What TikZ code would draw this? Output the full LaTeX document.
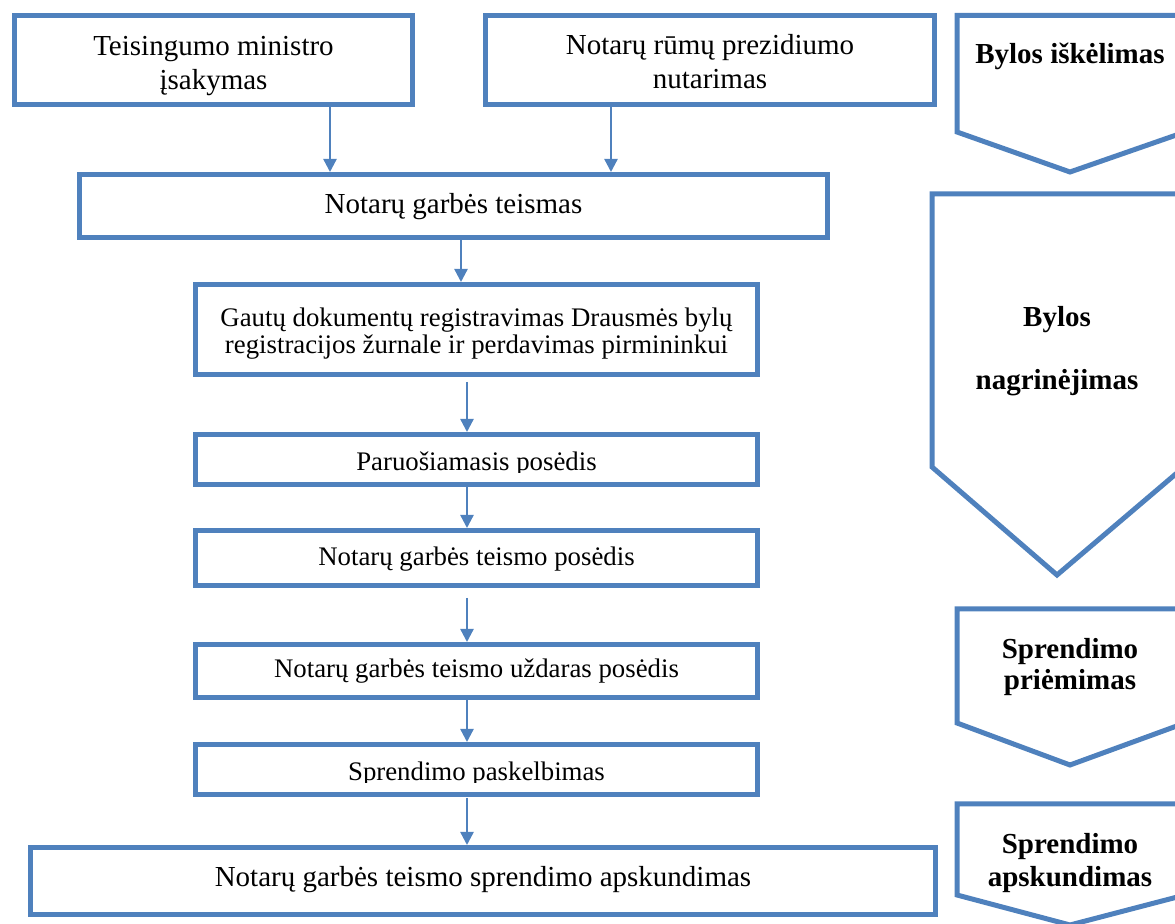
\documentclass[tikz,border=0pt]{standalone}
\usepackage{fontspec}
\setmainfont{Liberation Serif}
\usetikzlibrary{arrows.meta}
\definecolor{ob}{HTML}{4F81BD}
\begin{document}
\begin{tikzpicture}[x=0.5pt,y=-0.5pt,
  box/.style={draw=ob, line width=2.5pt, inner sep=0pt, fill=white},
  arr/.style={draw=ob, line width=1.2pt, -{Triangle[width=6.5pt,length=6.5pt]}},
  chev/.style={draw=ob, line width=2.5pt, line join=miter},
  txt/.style={anchor=base, inner sep=0pt, font=\fontsize{14.5}{17}\selectfont},
  stxt/.style={anchor=base, inner sep=0pt, font=\fontsize{13.4}{16}\selectfont},
  btxt/.style={anchor=base, inner sep=0pt, font=\fontsize{14.5}{17}\selectfont\bfseries}]
\useasboundingbox (0,0) rectangle (1175,924);

% boxes
\node[box, minimum width=199pt, minimum height=44.5pt] (b1) at (213.5,60) {};
\node[box, minimum width=224.5pt, minimum height=44.5pt] (b2) at (710,60) {};
\node[box, minimum width=374pt, minimum height=31.5pt] (b3) at (453.5,206) {};
\node[box, minimum width=281pt, minimum height=45pt] (b4) at (476.5,329.5) {};
\node[box, minimum width=281pt, minimum height=25pt] (b5) at (476.5,459.5) {};
\node[box, minimum width=281pt, minimum height=27.5pt] (b6) at (476.5,558) {};
\node[box, minimum width=281pt, minimum height=26.5pt] (b7) at (476.5,671) {};
\node[box, minimum width=281pt, minimum height=25pt] (b8) at (476.5,769.5) {};
\node[box, minimum width=452.5pt, minimum height=33.5pt] (b9) at (483,881) {};

% box texts
\node[txt] (t1a) at (213.5,56) {Teisingumo ministro};
\node[txt] (t1b) at (213.5,90) {įsakymas};
\node[txt] (t2a) at (710,55) {Notarų rūmų prezidiumo};
\node[txt] (t2b) at (710,89) {nutarimas};
\node[txt] (t3) at (453.5,214) {Notarų garbės teismas};
\node[stxt] (t4a) at (476.5,327) {Gautų dokumentų registravimas Drausmės bylų};
\node[stxt] (t4b) at (476.5,354) {registracijos žurnale ir perdavimas pirmininkui};
\begin{scope}
  \clip (200,440) rectangle (752,473);
  \node[stxt] (t5) at (476.5,471) {Paruošiamasis posėdis};
\end{scope}
\node[stxt] (t6) at (476.5,566) {Notarų garbės teismo posėdis};
\node[stxt] (t7) at (476.5,678) {Notarų garbės teismo uždaras posėdis};
\begin{scope}
  \clip (200,750) rectangle (752,783);
  \node[stxt] (t8) at (476.5,781) {Sprendimo paskelbimas};
\end{scope}
\node[txt] (t9) at (483,887) {Notarų garbės teismo sprendimo apskundimas};

% connectors
\coordinate (x1) at (330,0);
\coordinate (x2) at (611,0);
\coordinate (x3) at (461,0);
\coordinate (s4) at (467,382);
\coordinate (s6) at (467,598);
\coordinate (s8) at (467,798);
\draw[arr] (b1.south -| x1) -- (b3.north -| x1);
\draw[arr] (b2.south -| x2) -- (b3.north -| x2);
\draw[arr] (b3.south -| x3) -- (b4.north -| x3);
\draw[arr] (s4) -- (b5.north -| s4);
\draw[arr] (b5.south -| s4) -- (b6.north -| s4);
\draw[arr] (s6) -- (b7.north -| s6);
\draw[arr] (b7.south -| s6) -- (b8.north -| s6);
\draw[arr] (s8) -- (b9.north -| s8);

% stage chevrons
\begin{scope}
  \clip (0,0) rectangle (1175,924);
  \draw[chev] (957,15.5) -- (1185,15.5) -- (1185,132) -- (1070,172) -- (957,132) -- cycle;
  \draw[chev] (932,194) -- (1184,194) -- (1184,467) -- (1057,575) -- (932,467) -- cycle;
  \draw[chev] (957,609) -- (1185,609) -- (1185,723) -- (1070,765) -- (957,723) -- cycle;
  \draw[chev] (957,804) -- (1185,804) -- (1185,895) -- (1070,925) -- (957,895) -- cycle;
\end{scope}
\node[btxt] (c1) at (1070,64) {Bylos iškėlimas};
\node[btxt] (c2a) at (1057,327) {Bylos};
\node[btxt] (c2b) at (1057,390) {nagrinėjimas};
\node[btxt] (c3a) at (1070,659) {Sprendimo};
\node[btxt] (c3b) at (1070,690) {priėmimas};
\node[btxt] (c4a) at (1070,854) {Sprendimo};
\node[btxt] (c4b) at (1070,887) {apskundimas};
\end{tikzpicture}
\end{document}
